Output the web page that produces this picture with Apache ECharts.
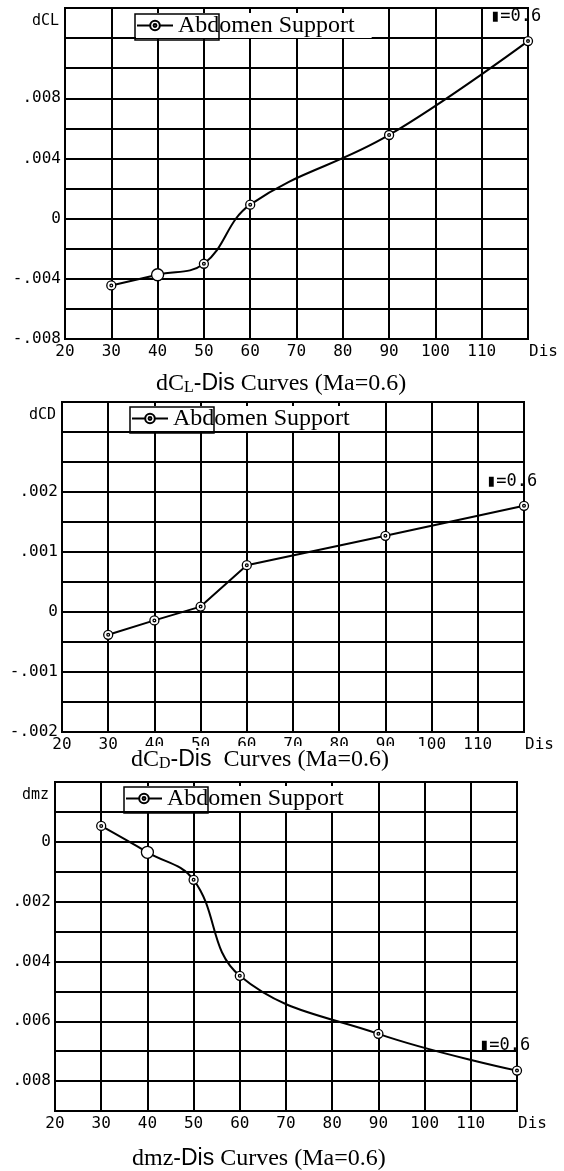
<!DOCTYPE html>
<html>
<head>
<meta charset="utf-8">
<script src="https://cdn.jsdelivr.net/npm/echarts@6/dist/echarts.min.js"></script>
<style>
  html, body { margin: 0; padding: 0; background: #fff; }
  #chart { width: 564px; height: 1171px; }
</style>
</head>
<body>
<div id="chart"></div>
<script>
// Support distance (Dis) of each test point
const dis = [30, 40, 50, 60, 90, 120];

// Coefficient increments at Ma = 0.6, one list per coefficient
const dCL = [-0.00444, -0.00373, -0.0030, 0.00093, 0.00556, 0.0118];
const dCD = [-0.00038, -0.00014, 0.00009, 0.00078, 0.00127, 0.00177];
const dmz = [0.00053, -0.00035, -0.00127, -0.00448, -0.00642, -0.00765];

// Tick labels that are printed on each axis
const disTicks = [20, 30, 40, 50, 60, 70, 80, 90, 100, 110];
const dCLTicks = [-0.008, -0.004, 0, 0.004, 0.008];
const dCDTicks = [-0.002, -0.001, 0, 0.001, 0.002];
const dmzTicks = [-0.008, -0.006, -0.004, -0.002, 0];

const seriesName = 'Abdomen Support';
const machNote = '\u25AE=0.6';

const MONO = 'DejaVu Sans Mono';
const SERIF = 'Liberation Serif';
const SANS = 'Liberation Sans';

// open circle with a small ring in the middle
const markerPath = 'path://M10,0A10,10,0,1,1,-10,0A10,10,0,1,1,10,0ZM3,0A3,3,0,1,1,-3,0A3,3,0,1,1,3,0Z';

function onTick(list, v) {
  return list.some(t => Math.abs(t - v) < 1e-9);
}
// ".004" / "-.004" / "0"
function shortNum(v, dropSign) {
  if (Math.abs(v) < 1e-12) return '0';
  const s = Math.abs(v).toFixed(3).replace(/^0/, '');
  return (v < 0 && !dropSign ? '-' : '') + s;
}

const panels = [
  {
    grid: { left: 65, top: 8, width: 463, height: 331 },
    y: { min: -0.008, max: 0.014, interval: 0.002 },
    ticks: dCLTicks, dropSign: false, values: dCL, yName: 'dCL',
    smooth: 0.4, plainMarkerAt: 40,
    box: { x: 135, y: 14 }, legend: { left: 136, top: 13, padRight: 17 },
    title: { left: 156, top: 372, pad: [0, 0, 0, 0], bg: 'transparent',
             text: '{a|dC}{s|L}{b|-Dis}{a| Curves (Ma=0.6)}' }
  },
  {
    grid: { left: 62, top: 402, width: 462, height: 330 },
    y: { min: -0.002, max: 0.0035, interval: 0.0005 },
    ticks: dCDTicks, dropSign: false, values: dCD, yName: 'dCD',
    smooth: false, plainMarkerAt: null,
    box: { x: 130, y: 407 }, legend: { left: 131, top: 406, padRight: 18 },
    title: { left: 124, top: 746, pad: [2, 37, 0, 7], bg: '#fff',
             text: '{a|dC}{s|D}{b|-Dis}{a|  Curves (Ma=0.6)}' }
  },
  {
    grid: { left: 55, top: 782, width: 462, height: 329 },
    y: { min: -0.009, max: 0.002, interval: 0.001 },
    ticks: dmzTicks, dropSign: true, values: dmz, yName: 'dmz',
    smooth: 0.4, plainMarkerAt: 40,
    box: { x: 124, y: 787 }, legend: { left: 125, top: 786, padRight: 6 },
    title: { left: 132, top: 1147, pad: [0, 0, 0, 0], bg: 'transparent',
             text: '{a|dmz}{b|-Dis}{a| Curves (Ma=0.6)}' }
  }
];

const titleRich = {
  a: { fontFamily: SERIF, fontSize: 24, fontWeight: 'normal', lineHeight: 24, color: '#000' },
  b: { fontFamily: SANS, fontSize: 23, fontWeight: 'normal', lineHeight: 24, color: '#000' },
  s: { fontFamily: SERIF, fontSize: 16, fontWeight: 'normal', lineHeight: 16,
       padding: [8, 0, 0, 0], color: '#000' }
};

const grids = [], xAxes = [], yAxes = [], series = [], legends = [], titles = [], graphics = [];

panels.forEach((p, i) => {
  grids.push(Object.assign({ show: true, borderColor: '#000', borderWidth: 2,
                             backgroundColor: 'transparent' }, p.grid));

  xAxes.push({
    gridIndex: i, type: 'value', min: 20, max: 120, interval: 10, position: 'bottom',
    axisLine: { show: false, onZero: false }, axisTick: { show: false },
    splitLine: { show: true, lineStyle: { color: '#000', width: 2 } },
    axisLabel: {
      margin: 5, color: '#000', fontFamily: MONO, fontSize: 16,
      formatter: v => onTick(disTicks, v) ? String(v) : ''
    },
    name: 'Dis', nameLocation: 'end', nameGap: 1,
    nameTextStyle: { color: '#000', fontFamily: MONO, fontSize: 16,
                     align: 'left', verticalAlign: 'top', padding: [5, 0, 0, 0] }
  });

  yAxes.push({
    gridIndex: i, type: 'value', min: p.y.min, max: p.y.max, interval: p.y.interval,
    axisLine: { show: false, onZero: false }, axisTick: { show: false },
    splitLine: { show: true, lineStyle: { color: '#000', width: 2 } },
    axisLabel: {
      margin: 4, color: '#000', fontFamily: MONO, fontSize: 16,
      formatter: v => onTick(p.ticks, v) ? shortNum(v, p.dropSign) : ''
    },
    name: p.yName, nameLocation: 'end', nameGap: -13,
    nameTextStyle: { color: '#000', fontFamily: MONO, fontSize: 15,
                     align: 'right', verticalAlign: 'middle', padding: [0, 6, 0, 0] }
  });

  const last = dis.length - 1;
  series.push({
    type: 'line', name: seriesName, xAxisIndex: i, yAxisIndex: i,
    smooth: p.smooth, symbol: markerPath, symbolSize: 9, showAllSymbol: true,
    lineStyle: { color: '#000', width: 2 },
    itemStyle: { color: '#fff', borderColor: '#000', borderWidth: 1.3 },
    emphasis: { disabled: true }, silent: true, z: 3,
    data: dis.map((d, j) => {
      const item = { value: [d, p.values[j]] };
      if (d === p.plainMarkerAt) {
        item.symbol = 'circle';
        item.symbolSize = 12;
      }
      if (j === last) {
        item.label = {
          show: true, formatter: machNote, position: 'top', align: 'left',
          offset: [-38, -6], color: '#000', fontFamily: MONO, fontSize: 17
        };
      }
      return item;
    })
  });

  legends.push({
    data: [seriesName], left: p.legend.left, top: p.legend.top,
    orient: 'horizontal', itemWidth: 36, itemHeight: 12, itemGap: 0,
    padding: [0, p.legend.padRight, 0, 0], backgroundColor: '#fff',
    selectedMode: false, z: 6,
    textStyle: { fontFamily: SERIF, fontSize: 24, lineHeight: 21,
                 padding: [4, 0, 0, 0], color: '#000' }
  });

  // frame of the legend key
  graphics.push({
    type: 'rect', z: 10, silent: true,
    shape: { x: p.box.x, y: p.box.y, width: 84, height: 26 },
    style: { fill: 'none', stroke: '#000', lineWidth: 1.5 }
  });

  titles.push({
    text: p.title.text, left: p.title.left, top: p.title.top,
    padding: p.title.pad, backgroundColor: p.title.bg, z: 7,
    textStyle: { fontWeight: 'normal', rich: titleRich }
  });
});

const chart = echarts.init(document.getElementById('chart'), null, { renderer: 'canvas' });
chart.setOption({
  animation: false,
  backgroundColor: '#fff',
  title: titles,
  legend: legends,
  grid: grids,
  xAxis: xAxes,
  yAxis: yAxes,
  series: series,
  graphic: graphics
});
</script>
</body>
</html>
